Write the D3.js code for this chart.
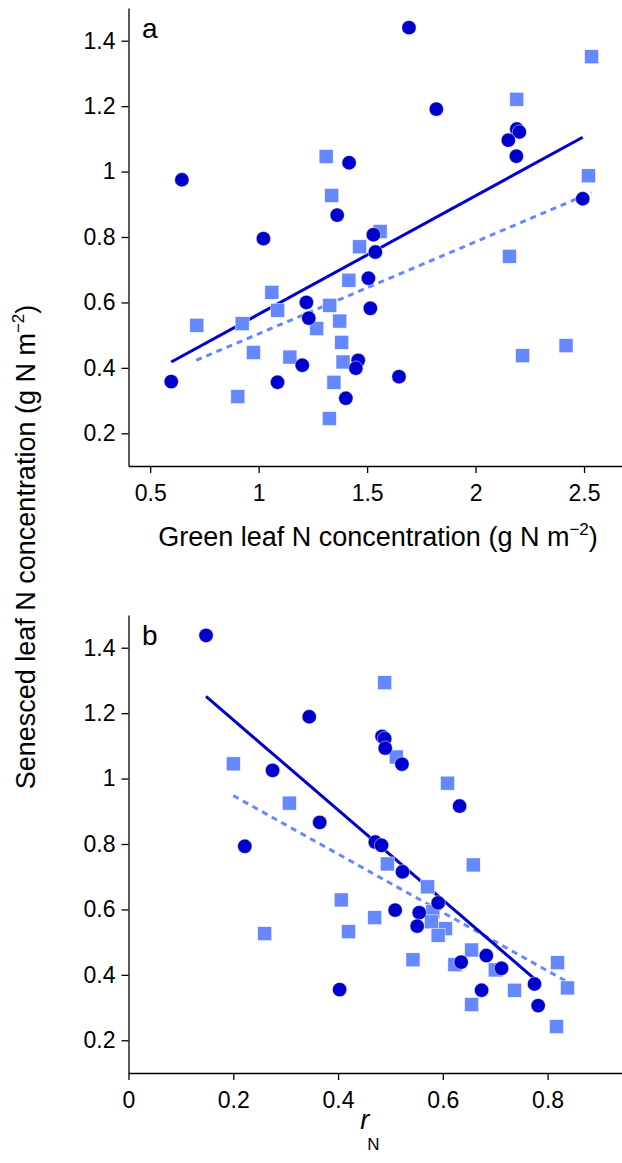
<!DOCTYPE html>
<html>
<head>
<meta charset="utf-8">
<script src="https://cdn.jsdelivr.net/npm/d3@7"></script>
<style>
  body { margin: 0; background: #fff; }
  svg text { font-family: "Liberation Sans", Arial, Helvetica, sans-serif; fill: #000; }
</style>
</head>
<body>
<svg id="chart" width="622" height="1163"></svg>
<script>
// panel a: green leaf N (x) vs senesced leaf N (y)
const aCircleX = [1.693, 1.819, 2.19, 2.202, 2.151, 2.188, 1.417, 0.646, 1.362, 2.494,
  1.529, 1.022, 1.538, 1.506, 1.220, 1.231, 1.515, 1.201, 1.459, 1.448, 0.597, 1.087, 1.647, 1.402]
const aCircleY = [1.44, 1.191, 1.130, 1.121, 1.096, 1.047, 1.027, 0.975, 0.867, 0.917,
  0.807, 0.795, 0.754, 0.674, 0.600, 0.552, 0.582, 0.408, 0.423, 0.399, 0.358, 0.356, 0.373, 0.307]
const aSquareX = [2.535, 2.19, 1.311, 1.337, 2.520, 1.560, 1.465, 2.156, 1.416, 1.061,
  1.328, 1.088, 1.374, 0.715, 0.924, 1.268, 1.383, 2.417, 2.217, 0.976, 1.144, 1.389, 1.347, 0.904, 1.326]
const aSquareY = [1.351, 1.221, 1.046, 0.927, 0.987, 0.817, 0.770, 0.741, 0.668, 0.631,
  0.591, 0.576, 0.543, 0.530, 0.535, 0.520, 0.478, 0.468, 0.437, 0.447, 0.433, 0.418, 0.356, 0.312, 0.245]
const aSolidFit = [[0.597, 0.418], [2.494, 1.105]]
const aDashedFit = [[0.712, 0.423], [2.535, 0.936]]

// panel b: rN (x) vs senesced leaf N (y)
const bCircleX = [0.148, 0.345, 0.484, 0.489, 0.490, 0.522, 0.275, 0.632, 0.365, 0.471, 0.483, 0.222,
  0.523, 0.591, 0.509, 0.555, 0.551, 0.403, 0.635, 0.683, 0.712, 0.674, 0.775, 0.782]
const bCircleY = [1.4375, 1.189, 1.129, 1.122, 1.093, 1.044, 1.025, 0.916, 0.866, 0.806, 0.796, 0.793,
  0.715, 0.620, 0.598, 0.590, 0.549, 0.355, 0.439, 0.459, 0.420, 0.353, 0.372, 0.306]
const bSquareX = [0.489, 0.200, 0.511, 0.609, 0.307, 0.494, 0.658, 0.571, 0.406, 0.581, 0.578, 0.605, 0.591,
  0.470, 0.420, 0.260, 0.543, 0.655, 0.623, 0.700, 0.819, 0.838, 0.737, 0.655, 0.817]
const bSquareY = [1.293, 1.045, 1.066, 0.986, 0.925, 0.739, 0.736, 0.669, 0.629, 0.593, 0.562, 0.541, 0.521,
  0.575, 0.532, 0.526, 0.446, 0.476, 0.431, 0.415, 0.437, 0.360, 0.353, 0.309, 0.242]
const bSolidFit = [[0.148, 1.251], [0.775, 0.388]]
const bDashedFit = [[0.200, 0.948], [0.836, 0.380]]

const yTicks = [0.2, 0.4, 0.6, 0.8, 1, 1.2, 1.4]
const aXTicks = [0.5, 1, 1.5, 2, 2.5]
const bXTicks = [0, 0.2, 0.4, 0.6, 0.8]

const darkBlue = '#0000cc'
const lightBlue = '#6688ff'
const tickFont = 23
const labelFont = 27

const svg = d3.select('#chart')

function fmt(d) { return String(d) }

function drawPanel(opt) {
  const x = d3.scaleLinear().domain(opt.xDomain).range([128.5, 622])
  const y = d3.scaleLinear().domain([0.1, 1.5]).range([opt.bottom, opt.bottom - 458])
  const g = svg.append('g')

  const yAxis = g.append('g')
    .attr('transform', 'translate(128.5,0)')
    .call(d3.axisLeft(y).tickValues(yTicks).tickFormat(fmt).tickSize(7).tickSizeOuter(0).tickPadding(6))
  const xAxis = g.append('g')
    .attr('transform', `translate(0,${opt.bottom})`)
    .call(d3.axisBottom(x).tickValues(opt.xTicks).tickFormat(fmt).tickSize(7).tickSizeOuter(0).tickPadding(12))
  ;[yAxis, xAxis].forEach(ax => {
    ax.selectAll('path, line').attr('stroke', '#000').attr('stroke-width', 1.3)
    ax.selectAll('text').style('font-size', tickFont + 'px')
  })

  // fit lines
  const line = d3.line().x(d => x(d[0])).y(d => y(d[1]))
  g.append('path').attr('d', line(opt.dashed))
    .attr('fill', 'none').attr('stroke', lightBlue).attr('stroke-width', 3)
    .attr('stroke-dasharray', '6,5')
  g.append('path').attr('d', line(opt.solid))
    .attr('fill', 'none').attr('stroke', darkBlue).attr('stroke-width', 3)

  // squares then circles
  const s = 14
  g.selectAll('rect.sq').data(d3.range(opt.sqX.length)).join('rect')
    .attr('x', i => x(opt.sqX[i]) - s / 2)
    .attr('y', i => y(opt.sqY[i]) - s / 2)
    .attr('width', s).attr('height', s)
    .attr('fill', lightBlue).attr('stroke', '#fff').attr('stroke-width', 0.5)
  g.selectAll('circle.ci').data(d3.range(opt.ciX.length)).join('circle')
    .attr('cx', i => x(opt.ciX[i]))
    .attr('cy', i => y(opt.ciY[i]))
    .attr('r', 7.2)
    .attr('fill', darkBlue).attr('stroke', '#fff').attr('stroke-width', 0.5)

  g.append('text').attr('x', 142).attr('y', opt.bottom - 428)
    .style('font-size', '28px').text(opt.letter)
  return { x, y, g }
}

const pa = drawPanel({
  xDomain: [0.4, 2.675], xTicks: aXTicks, bottom: 466,
  ciX: aCircleX, ciY: aCircleY, sqX: aSquareX, sqY: aSquareY,
  solid: aSolidFit, dashed: aDashedFit, letter: 'a'
})
const pb = drawPanel({
  xDomain: [0, 0.942], xTicks: bXTicks, bottom: 1073,
  ciX: bCircleX, ciY: bCircleY, sqX: bSquareX, sqY: bSquareY,
  solid: bSolidFit, dashed: bDashedFit, letter: 'b'
})

// axis titles
const xa = svg.append('text').attr('x', 378).attr('y', 546)
  .attr('text-anchor', 'middle').style('font-size', labelFont + 'px')
xa.append('tspan').text('Green leaf N concentration (g N m')
xa.append('tspan').attr('dy', -11).style('font-size', '17px').text('\u22122')
xa.append('tspan').attr('dy', 11).text(')')

const xb = svg.append('text').attr('x', 370).attr('y', 1129)
  .style('font-size', labelFont + 'px')
xb.append('tspan').attr('text-anchor', 'middle').style('font-style', 'italic').text('r')
xb.append('tspan').attr('dy', 21).attr('dx', -2).style('font-size', '17px').text('N')

const yl = svg.append('text')
  .attr('transform', 'translate(35,547) rotate(-90)')
  .attr('text-anchor', 'middle').style('font-size', labelFont + 'px')
yl.append('tspan').text('Senesced leaf N concentration (g N m')
yl.append('tspan').attr('dy', -11).style('font-size', '17px').text('\u22122')
yl.append('tspan').attr('dy', 11).text(')')
</script>
</body>
</html>
